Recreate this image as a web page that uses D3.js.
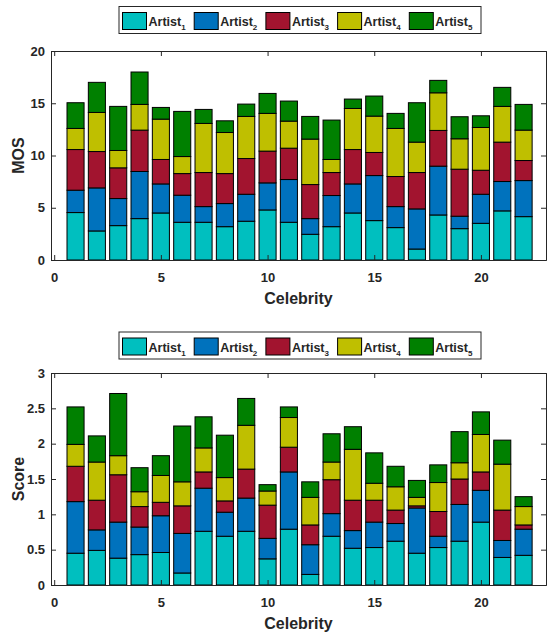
<!DOCTYPE html>
<html>
<head>
<meta charset="utf-8">
<script src="https://cdn.jsdelivr.net/npm/d3@7"></script>
<style>
  body { margin: 0; background: #fff; }
  svg text { font-family: "Liberation Sans", Arial, sans-serif; font-weight: bold; fill: #262626; }
</style>
</head>
<body>
<div id="chart"></div>
<script>
// celebrities 1..22
var celebs = d3.range(1, 23);
var artistNames = ["Artist", "Artist", "Artist", "Artist", "Artist"];
var artistSubs = ["1", "2", "3", "4", "5"];
var colors = ["#00BFBF", "#0072BD", "#A2142F", "#BFBF00", "#008000"];

// MOS panel - per artist segment heights
var mos1 = [4.54, 2.78, 3.29, 3.96, 4.50, 3.61, 3.61, 3.19, 3.71, 4.79, 3.61, 2.46, 3.19, 4.50, 3.77, 3.10, 1.05, 4.31, 3.00, 3.51, 4.70, 4.15];
var mos2 = [2.14, 4.12, 2.59, 4.51, 2.78, 2.59, 1.50, 2.21, 2.58, 2.59, 4.09, 1.50, 2.98, 2.78, 4.31, 2.01, 3.84, 4.67, 1.19, 2.78, 2.81, 3.45];
var mos3 = [3.89, 3.48, 2.94, 3.96, 2.34, 2.07, 3.26, 2.87, 3.42, 3.04, 3.00, 3.26, 2.20, 3.29, 2.21, 2.88, 3.48, 3.42, 4.50, 2.30, 3.77, 1.92];
var mos4 = [2.02, 3.74, 1.66, 2.46, 3.86, 1.63, 4.70, 3.93, 4.03, 3.61, 2.59, 4.35, 1.25, 3.93, 3.48, 4.60, 2.91, 3.60, 2.91, 4.09, 3.42, 2.91];
var mos5 = [2.46, 2.88, 4.22, 3.10, 1.12, 4.32, 1.34, 1.12, 1.18, 1.91, 1.92, 2.17, 3.77, 0.90, 1.92, 1.44, 3.77, 1.19, 2.11, 1.12, 1.82, 2.46];
var mosTicks = [0, 5, 10, 15, 20];

// Score panel - per artist segment heights
var score1 = [0.45, 0.49, 0.38, 0.43, 0.46, 0.17, 0.76, 0.69, 0.76, 0.37, 0.79, 0.15, 0.69, 0.52, 0.53, 0.62, 0.45, 0.53, 0.62, 0.89, 0.39, 0.42];
var score2 = [0.73, 0.29, 0.51, 0.39, 0.52, 0.56, 0.61, 0.34, 0.47, 0.29, 0.81, 0.42, 0.32, 0.25, 0.36, 0.25, 0.64, 0.16, 0.52, 0.45, 0.24, 0.37];
var score3 = [0.50, 0.42, 0.67, 0.29, 0.19, 0.39, 0.23, 0.16, 0.41, 0.47, 0.35, 0.28, 0.48, 0.43, 0.31, 0.19, 0.03, 0.35, 0.36, 0.26, 0.43, 0.06];
var score4 = [0.31, 0.54, 0.27, 0.21, 0.38, 0.34, 0.34, 0.33, 0.62, 0.20, 0.42, 0.39, 0.25, 0.72, 0.24, 0.33, 0.12, 0.41, 0.23, 0.53, 0.65, 0.26];
var score5 = [0.53, 0.37, 0.88, 0.34, 0.28, 0.79, 0.44, 0.60, 0.38, 0.09, 0.15, 0.22, 0.40, 0.32, 0.43, 0.29, 0.24, 0.25, 0.44, 0.32, 0.34, 0.14];
var scoreTicks = [0, 0.5, 1, 1.5, 2, 2.5, 3];

var xTicks = [0, 5, 10, 15, 20];

var W = 547, H = 635;
var svg = d3.select("#chart").append("svg")
  .attr("width", W)
  .attr("height", H);

function drawPanel(opts) {
  var x = d3.scaleLinear().domain([-0.15, 23.05]).range([51, 546]);
  var y = d3.scaleLinear().domain(opts.yDomain).range([opts.bottom, opts.top]);

  var rows = celebs.map(function(c, i) {
    var r = {celeb: c};
    opts.series.forEach(function(s, k) { r["a" + k] = s[i]; });
    return r;
  });
  var keys = opts.series.map(function(s, k) { return "a" + k; });
  var stacked = d3.stack().keys(keys)(rows);

  var g = svg.append("g");
  var bw = x(0.8) - x(0);

  g.selectAll("g.layer")
    .data(stacked)
    .enter().append("g")
    .attr("class", "layer")
    .attr("fill", function(d, k) { return colors[k]; })
    .selectAll("rect")
    .data(function(d) { return d; })
    .enter().append("rect")
    .attr("x", function(d) { return x(d.data.celeb) - bw / 2; })
    .attr("width", bw)
    .attr("y", function(d) { return y(d[1]); })
    .attr("height", function(d) { return y(d[0]) - y(d[1]); })
    .attr("stroke", "#000")
    .attr("stroke-width", 1);

  // box (top + right), ticks inward, no labels
  g.append("g")
    .attr("transform", "translate(0," + opts.top + ")")
    .call(d3.axisTop(x).tickValues(xTicks).tickSize(-5).tickFormat(""))
    .call(function(a) { a.selectAll("path, line").attr("stroke", "#262626"); });
  g.append("g")
    .attr("transform", "translate(546,0)")
    .call(d3.axisRight(y).tickValues(opts.yTicks).tickSize(-5).tickFormat(""))
    .call(function(a) { a.selectAll("path, line").attr("stroke", "#262626"); });

  // bottom axis
  var xa = g.append("g")
    .attr("transform", "translate(0," + opts.bottom + ")")
    .call(d3.axisBottom(x).tickValues(xTicks).tickSize(-5).tickPadding(13).tickSizeOuter(0));
  // left axis
  var ya = g.append("g")
    .attr("transform", "translate(51,0)")
    .call(d3.axisLeft(y).tickValues(opts.yTicks).tickFormat(d3.format("~g"))
      .tickSize(-5).tickPadding(6).tickSizeOuter(0));
  [xa, ya].forEach(function(a) {
    a.selectAll("path, line").attr("stroke", "#262626");
    a.selectAll("text")
      .style("font-size", "13px")
      .style("font-family", "'Liberation Sans', Arial, sans-serif")
      .style("font-weight", "bold")
      .attr("fill", "#262626");
  });

  // axis titles
  g.append("text")
    .attr("x", (51 + 546) / 2)
    .attr("y", opts.bottom + 44)
    .attr("text-anchor", "middle")
    .style("font-size", "16px")
    .text("Celebrity");
  g.append("text")
    .attr("transform", "translate(24," + ((opts.top + opts.bottom) / 2) + ") rotate(-90)")
    .attr("text-anchor", "middle")
    .style("font-size", "16px")
    .text(opts.yLabel);

  // legend
  var lg = g.append("g").attr("transform", "translate(119," + opts.legendY + ")");
  lg.append("rect")
    .attr("width", 362).attr("height", 27)
    .attr("fill", "#fff").attr("stroke", "#262626").attr("stroke-width", 1);
  artistNames.forEach(function(name, k) {
    var ex = 3.5 + k * 71.7;
    lg.append("rect")
      .attr("x", ex).attr("y", 6)
      .attr("width", 24).attr("height", 17)
      .attr("fill", colors[k]).attr("stroke", "#000").attr("stroke-width", 1);
    var t = lg.append("text")
      .attr("x", ex + 26).attr("y", 19.5)
      .style("font-size", "12.5px")
      .attr("fill", "#000");
    t.append("tspan").text(name);
    t.append("tspan").attr("dy", 4).style("font-size", "8px").text(artistSubs[k]);
  });
}

drawPanel({
  series: [mos1, mos2, mos3, mos4, mos5],
  yDomain: [0, 20], yTicks: mosTicks,
  top: 51, bottom: 260, yLabel: "MOS", legendY: 6.5
});

drawPanel({
  series: [score1, score2, score3, score4, score5],
  yDomain: [0, 3], yTicks: scoreTicks,
  top: 373, bottom: 585, yLabel: "Score", legendY: 332
});
</script>
</body>
</html>
